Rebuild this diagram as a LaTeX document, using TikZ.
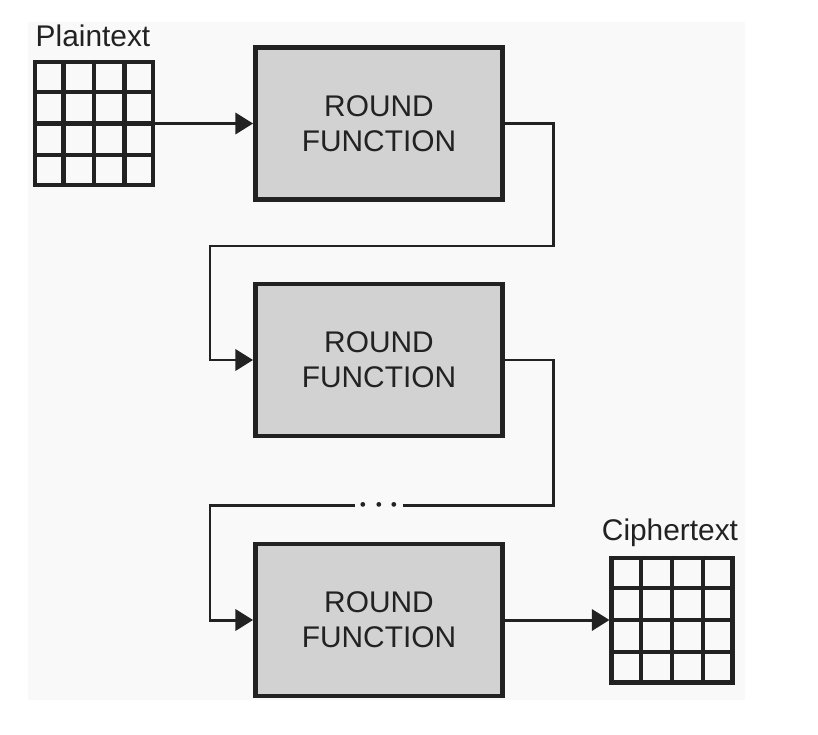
\documentclass[tikz,border=0pt]{standalone}
\usepackage{fontspec}
\setmainfont{Liberation Sans}
\usetikzlibrary{calc,arrows.meta}
\definecolor{ink}{HTML}{222222}
\definecolor{boxgray}{HTML}{D2D2D2}
\definecolor{paper}{HTML}{F9F9F9}

\begin{document}
\begin{tikzpicture}[x=0.02cm,y=-0.02cm]
\tikzstyle{round}=[draw=ink, fill=boxgray, line width=2.8pt, minimum width=4.94cm, minimum height=3.04cm, align=center, text=ink, font=\fontsize{17}{20}\selectfont]
\tikzstyle{block}=[draw=ink, line width=2.3pt, inner sep=0pt]
\tikzstyle{cell}=[ink, line width=2.3pt]
\tikzstyle{wire}=[ink, line width=1.7pt]
\tikzstyle{tip}=[-{Triangle[length=10pt,width=12pt]}]
\tikzstyle{lbl}=[text=ink, anchor=base, inner sep=0pt, font=\fontsize{17}{20}\selectfont]
\useasboundingbox (0,0) rectangle (818,734);
\fill [paper] (28,22) rectangle (745,700);
\node [block, minimum width=2.36cm, minimum height=2.46cm] (p) at (94,123.5) {};
\node [block, minimum width=2.42cm, minimum height=2.5cm] (c) at (672,620) {};
\foreach \g in {p,c} {
  \foreach \k in {1,2,3} {
    \draw [cell] ($(\g.north west)!\k/4!(\g.north east)$) -- ($(\g.south west)!\k/4!(\g.south east)$);
    \draw [cell] ($(\g.north west)!\k/4!(\g.south west)$) -- ($(\g.north east)!\k/4!(\g.south east)$);
  }
}
\node [lbl] (pl) at (93,46) {Plaintext};
\node [lbl] (cl) at (670,540) {Ciphertext};
\node [round] (r1) at (379,123.5) {ROUND\\FUNCTION};
\node [round] (r2) at (379,360) {ROUND\\FUNCTION};
\node [round] (r3) at (379,620) {ROUND\\FUNCTION};
\node [text=ink, inner sep=0pt, minimum width=0.96cm, font=\fontsize{18}{20}\selectfont\boldmath] (dots) at (379,505) {$\cdots$};
\draw [wire,tip] (p.east) -- (r1.west);
\draw [wire,tip] (r1.east) -| (553,246) -| (210,360) -- (r2.west);
\draw [wire] (r2.east) -| (553,505) -- (dots.east);
\draw [wire,tip] (dots.west) -| (210,620) -- (r3.west);
\draw [wire,tip] (r3.east) -- (c.west);
\end{tikzpicture}
\end{document}
